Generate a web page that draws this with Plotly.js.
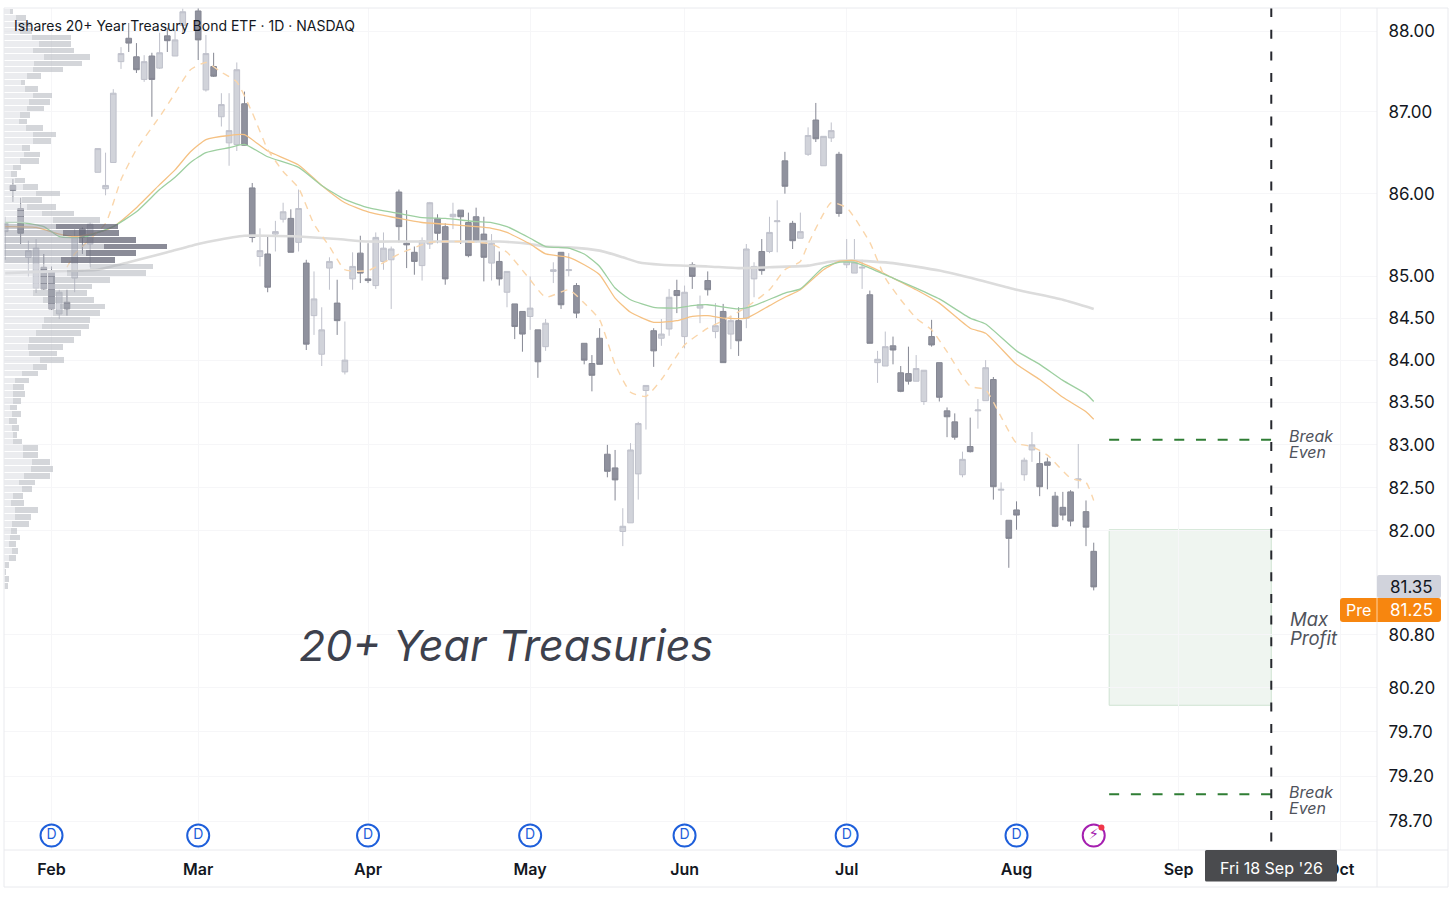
<!DOCTYPE html>
<html>
<head>
<meta charset="utf-8">
<script src="https://cdn.plot.ly/plotly-3.0.1.min.js"></script>
<style>html,body{margin:0;padding:0;background:#fff}#chart{width:1456px;height:897px}</style>
</head>
<body>
<div id="chart"></div>
<script>
const sessions = [
'2026-01-23','2026-01-26','2026-01-27','2026-01-28','2026-01-29','2026-01-30',
'2026-02-02','2026-02-03','2026-02-04','2026-02-05','2026-02-06','2026-02-09','2026-02-10','2026-02-11','2026-02-12','2026-02-13','2026-02-17','2026-02-18','2026-02-19','2026-02-20','2026-02-23','2026-02-24','2026-02-25','2026-02-26','2026-02-27',
'2026-03-02','2026-03-03','2026-03-04','2026-03-05','2026-03-06','2026-03-09','2026-03-10','2026-03-11','2026-03-12','2026-03-13','2026-03-16','2026-03-17','2026-03-18','2026-03-19','2026-03-20','2026-03-23','2026-03-24','2026-03-25','2026-03-26','2026-03-27','2026-03-30','2026-03-31',
'2026-04-01','2026-04-02','2026-04-06','2026-04-07','2026-04-08','2026-04-09','2026-04-10','2026-04-13','2026-04-14','2026-04-15','2026-04-16','2026-04-17','2026-04-20','2026-04-21','2026-04-22','2026-04-23','2026-04-24','2026-04-27','2026-04-28','2026-04-29','2026-04-30',
'2026-05-01','2026-05-04','2026-05-05','2026-05-06','2026-05-07','2026-05-08','2026-05-11','2026-05-12','2026-05-13','2026-05-14','2026-05-15','2026-05-18','2026-05-19','2026-05-20','2026-05-21','2026-05-22','2026-05-26','2026-05-27','2026-05-28','2026-05-29',
'2026-06-01','2026-06-02','2026-06-03','2026-06-04','2026-06-05','2026-06-08','2026-06-09','2026-06-10','2026-06-11','2026-06-12','2026-06-15','2026-06-16','2026-06-17','2026-06-18','2026-06-22','2026-06-23','2026-06-24','2026-06-25','2026-06-26','2026-06-29','2026-06-30',
'2026-07-01','2026-07-02','2026-07-06','2026-07-07','2026-07-08','2026-07-09','2026-07-10','2026-07-13','2026-07-14','2026-07-15','2026-07-16','2026-07-17','2026-07-20','2026-07-21','2026-07-22','2026-07-23','2026-07-24','2026-07-27','2026-07-28','2026-07-29','2026-07-30','2026-07-31',
'2026-08-03','2026-08-04','2026-08-05','2026-08-06','2026-08-07','2026-08-10','2026-08-11','2026-08-12','2026-08-13','2026-08-14','2026-08-17'];
const futureSessions = ['2026-08-18','2026-08-19','2026-08-20','2026-08-21','2026-08-24','2026-08-25','2026-08-26','2026-08-27','2026-08-28','2026-08-31',
'2026-09-01','2026-09-02','2026-09-03','2026-09-04','2026-09-08','2026-09-09','2026-09-10','2026-09-11','2026-09-14','2026-09-15','2026-09-16','2026-09-17','2026-09-18','2026-09-21','2026-09-22','2026-09-23','2026-09-24','2026-09-25','2026-09-28','2026-09-29','2026-09-30','2026-10-01','2026-10-02','2026-10-05','2026-10-06','2026-10-07'];

const open = [85.54,86.10,85.82,85.23,84.86,85.11,
85.07,84.55,84.69,84.98,85.57,85.39,86.26,86.06,86.38,87.62,87.91,87.68,87.40,87.69,87.54,87.94,87.69,88.07,null,
88.25,87.27,87.56,86.94,86.62,86.60,87.10,86.07,85.24,85.27,85.51,85.69,85.70,85.41,85.16,84.53,84.07,85.10,84.68,83.86,84.97,85.28,
84.97,84.89,85.18,85.20,86.02,85.40,85.29,85.13,85.39,85.70,85.60,85.72,85.80,85.65,85.72,85.51,85.16,85.18,84.81,84.67,84.58,
84.52,84.36,84.16,85.06,85.29,85.07,84.89,84.20,83.96,84.26,82.89,82.73,81.99,82.09,82.66,83.64,84.35,84.26,84.37,84.83,
84.28,85.14,84.62,84.95,84.34,84.58,84.31,84.47,84.50,84.97,85.30,85.30,85.66,86.40,85.64,85.46,86.48,86.90,86.34,86.68,86.48,
85.14,85.04,85.10,84.78,83.97,83.93,84.17,83.85,83.84,83.75,83.51,84.28,83.97,83.40,83.27,82.65,82.98,83.40,83.52,83.77,82.47,82.12,
82.24,82.65,82.94,82.78,82.80,82.40,82.27,82.45,82.59,82.22,81.76];
const high = [85.72,86.18,85.95,85.43,85.45,85.27,
85.12,84.84,84.84,85.57,85.59,85.65,86.55,86.50,87.28,87.80,88.10,87.85,87.70,87.73,87.98,88.04,88.01,88.28,null,
88.40,87.95,87.73,87.23,87.23,87.61,87.25,86.13,85.58,85.48,85.67,85.89,85.81,86.05,85.20,85.06,84.63,85.23,84.96,84.46,85.29,85.49,
85.40,85.53,85.53,85.36,86.05,85.80,85.36,85.47,85.90,85.75,85.64,85.89,85.80,85.77,85.83,85.72,85.51,85.30,85.06,84.67,84.58,
85.00,84.36,84.49,85.17,85.29,85.28,84.92,84.20,84.06,84.38,83.00,82.94,82.26,83.02,83.27,83.70,84.38,84.49,84.85,84.96,
84.89,85.17,84.77,85.06,84.68,84.67,84.53,84.63,85.39,85.17,85.45,85.72,85.92,86.51,85.67,85.77,86.81,87.11,86.70,86.87,86.51,
85.45,85.45,85.20,84.83,84.11,84.34,84.28,83.93,84.16,84.06,83.88,84.48,83.97,83.44,83.37,82.92,83.32,83.54,84.00,83.80,82.56,82.12,
82.34,82.85,83.15,82.92,82.85,82.45,82.45,82.47,83.01,82.35,81.86];
const low = [85.20,85.90,85.39,85.00,84.80,84.84,
84.60,84.49,84.53,84.81,85.27,85.11,86.26,85.98,86.38,87.53,87.74,87.48,87.37,86.94,87.53,87.74,87.69,87.98,null,
87.64,87.25,87.43,86.82,86.34,86.52,86.59,85.41,85.12,84.81,85.30,85.65,85.29,85.30,84.12,84.30,83.93,84.84,84.30,83.83,84.84,84.92,
84.92,84.85,85.08,84.61,85.41,85.10,85.02,84.95,85.33,85.40,84.90,85.57,85.39,85.23,85.41,84.94,84.95,84.89,84.63,84.25,84.10,
84.36,83.79,84.11,84.92,84.61,85.00,84.50,83.95,83.63,83.95,82.62,82.35,81.82,82.09,82.36,83.18,83.92,84.17,84.29,84.56,
84.14,84.85,84.44,84.77,84.26,83.97,84.13,84.05,84.38,84.75,85.02,85.28,85.29,86.00,85.33,85.46,86.46,86.63,86.34,86.63,85.72,
85.10,85.04,84.85,84.20,83.73,83.93,83.95,83.62,83.71,83.75,83.47,84.16,83.51,83.09,83.06,82.62,82.91,83.19,83.52,82.36,82.18,81.57,
82.01,82.58,82.80,82.40,82.48,82.04,82.12,82.05,82.49,81.82,81.31];
const close = [85.64,86.04,85.52,85.31,85.34,84.85,
84.61,84.81,84.61,85.48,85.48,85.63,86.55,86.10,87.23,87.72,87.85,87.52,87.62,87.40,87.73,87.88,87.89,88.24,null,
87.89,87.72,87.44,87.09,86.77,87.52,86.59,85.47,85.31,84.87,85.54,85.78,85.29,85.82,84.19,84.73,84.36,85.18,84.47,84.00,85.12,85.04,
84.95,85.47,85.34,85.33,85.60,85.38,85.18,85.43,85.89,85.52,84.97,85.75,85.72,85.25,85.42,85.23,85.40,84.97,85.06,84.40,84.31,
84.62,83.98,84.44,85.08,84.66,85.08,84.56,84.00,83.82,83.95,82.69,82.59,82.05,82.94,83.25,83.70,84.11,84.31,84.75,84.77,
84.81,85.00,84.66,84.84,84.41,83.97,84.47,84.23,85.33,85.12,85.07,85.53,85.67,86.09,85.43,85.54,86.71,86.67,86.70,86.77,85.76,
85.18,85.17,85.11,84.20,84.01,84.16,84.12,83.63,83.75,83.90,83.88,84.18,83.56,83.33,83.09,82.83,82.92,83.41,83.91,82.51,82.48,81.91,
82.18,82.82,83.00,82.51,82.76,82.05,82.18,82.11,82.60,82.04,81.35];

const ma200Dates = ['2026-01-23','2026-02-02','2026-02-06','2026-02-10','2026-02-17','2026-02-24','2026-03-02','2026-03-04','2026-03-10','2026-03-13','2026-03-19','2026-03-26','2026-04-01','2026-04-08','2026-04-14','2026-04-21','2026-04-27','2026-05-01','2026-05-05','2026-05-08','2026-05-14','2026-05-19','2026-05-21','2026-05-27','2026-06-04','2026-06-10','2026-06-16','2026-06-24','2026-06-29','2026-07-02','2026-07-10','2026-07-20','2026-07-27','2026-08-03','2026-08-11','2026-08-17'];
const ma200 = [85.04,85.06,85.07,85.08,85.17,85.29,85.39,85.43,85.49,85.49,85.48,85.45,85.42,85.42,85.42,85.42,85.42,85.39,85.36,85.35,85.31,85.23,85.17,85.14,85.12,85.10,85.11,85.13,85.18,85.19,85.16,85.07,84.96,84.84,84.72,84.61];

const emaDates = ['2026-01-23','2026-01-29','2026-02-03','2026-02-05','2026-02-10','2026-02-12','2026-02-18','2026-02-23','2026-02-25','2026-02-27','2026-03-03','2026-03-06','2026-03-10','2026-03-13','2026-03-19','2026-03-24','2026-03-27','2026-04-01','2026-04-08','2026-04-13','2026-04-16','2026-04-22','2026-04-24','2026-04-28','2026-05-01','2026-05-05','2026-05-08','2026-05-12','2026-05-14','2026-05-18','2026-05-20','2026-05-26','2026-05-29','2026-06-02','2026-06-04','2026-06-08','2026-06-11','2026-06-16','2026-06-18','2026-06-23','2026-06-26','2026-06-30','2026-07-02','2026-07-07','2026-07-10','2026-07-15','2026-07-20','2026-07-24','2026-07-28','2026-08-03','2026-08-06','2026-08-11','2026-08-14','2026-08-17'];
const ema = [85.60,85.59,85.51,85.48,85.53,85.60,85.83,86.11,86.29,86.51,86.66,86.71,86.72,86.52,86.35,86.10,85.89,85.78,85.70,85.65,85.63,85.60,85.58,85.53,85.39,85.27,85.23,85.14,85.02,84.74,84.57,84.45,84.47,84.52,84.53,84.50,84.50,84.65,84.75,84.84,85.08,85.18,85.19,85.12,84.98,84.84,84.68,84.38,84.32,83.95,83.77,83.56,83.39,83.30];

const smaDates = ['2026-01-23','2026-01-27','2026-01-30','2026-02-03','2026-02-06','2026-02-10','2026-02-12','2026-02-18','2026-02-23','2026-02-25','2026-02-27','2026-03-03','2026-03-06','2026-03-10','2026-03-13','2026-03-19','2026-03-24','2026-03-27','2026-04-01','2026-04-08','2026-04-13','2026-04-16','2026-04-22','2026-04-24','2026-04-28','2026-05-01','2026-05-05','2026-05-08','2026-05-12','2026-05-14','2026-05-18','2026-05-20','2026-05-26','2026-05-29','2026-06-02','2026-06-04','2026-06-10','2026-06-12','2026-06-18','2026-06-23','2026-06-26','2026-06-30','2026-07-02','2026-07-07','2026-07-10','2026-07-15','2026-07-20','2026-07-24','2026-07-28','2026-08-03','2026-08-06','2026-08-11','2026-08-14','2026-08-17'];
const sma = [85.65,85.65,85.60,85.48,85.47,85.53,85.60,85.78,86.05,86.20,86.38,86.50,86.56,86.60,86.45,86.32,86.10,85.93,85.83,85.76,85.71,85.70,85.66,85.65,85.60,85.46,85.36,85.34,85.27,85.12,84.86,84.72,84.63,84.62,84.65,84.66,84.61,84.65,84.80,84.85,85.11,85.17,85.17,85.10,84.98,84.86,84.73,84.50,84.43,84.11,83.95,83.76,83.60,83.51];

const fastDates = ['2026-02-04','2026-02-05','2026-02-11','2026-02-13','2026-02-18','2026-02-23','2026-02-25','2026-02-27','2026-03-03','2026-03-05','2026-03-09','2026-03-11','2026-03-13','2026-03-17','2026-03-19','2026-03-23','2026-03-25','2026-03-27','2026-04-01','2026-04-08','2026-04-14','2026-04-20','2026-04-24','2026-04-28','2026-05-01','2026-05-05','2026-05-08','2026-05-12','2026-05-14','2026-05-18','2026-05-20','2026-05-22','2026-05-27','2026-06-01','2026-06-04','2026-06-08','2026-06-11','2026-06-16','2026-06-18','2026-06-23','2026-06-24','2026-06-29','2026-07-01','2026-07-02','2026-07-07','2026-07-09','2026-07-13','2026-07-15','2026-07-17','2026-07-21','2026-07-24','2026-07-28','2026-07-30','2026-08-03','2026-08-05','2026-08-07','2026-08-12','2026-08-14','2026-08-17'];
const fast = [85.11,85.27,85.64,86.17,86.54,86.94,87.23,87.52,87.61,87.49,87.37,86.99,86.54,86.27,86.07,85.63,85.36,85.08,85.07,85.27,85.41,85.42,85.39,85.29,84.96,84.75,84.84,84.68,84.48,83.95,83.62,83.57,83.77,84.18,84.38,84.47,84.63,84.84,85.08,85.18,85.39,85.89,85.83,85.71,85.41,84.98,84.72,84.50,84.36,84.10,83.69,83.65,83.33,83.02,82.98,82.88,82.61,82.56,82.35];

const profilePrices = [81.36,81.44,81.52,81.60,81.68,81.76,81.84,81.92,82.00,82.08,82.16,82.24,82.32,82.40,82.48,82.56,82.64,82.72,82.80,82.88,82.96,83.04,83.12,83.20,83.28,83.36,83.44,83.52,83.60,83.68,83.76,83.84,83.92,84.00,84.08,84.16,84.24,84.32,84.40,84.48,84.56,84.64,84.72,84.80,84.88,84.96,85.04,85.12,85.20,85.28,85.36,85.44,85.52,85.60,85.68,85.76,85.84,85.92,86.00,86.08,86.16,86.24,86.32,86.40,86.48,86.56,86.64,86.72,86.80,86.88,86.96,87.04,87.12,87.20,87.28,87.36,87.44,87.52,87.60,87.68,87.76,87.84,87.92,88.00,88.08,88.16,88.24];
const volumeUp = [1,1,1,1,15,22,13,17,20,23,32,32,19,27,52,45,59,79,82,55,57,27,25,23,15,22,17,25,25,27,32,52,85,107,75,72,75,95,112,120,147,167,117,87,152,147,187,257,169,245,299,225,177,155,145,112,69,52,95,57,32,19,27,47,59,52,87,87,65,43,47,67,75,87,63,49,69,85,90,119,85,105,82,47,42,35,17];
const volumeDown = [10,14,5,12,19,19,22,30,19,50,47,68,40,28,32,47,78,66,54,45,44,26,12,20,24,28,20,24,37,32,42,50,42,72,83,105,134,135,142,138,140,135,153,160,110,170,237,190,164,151,188,170,166,186,142,97,86,62,71,43,30,20,22,57,49,24,53,68,50,25,29,52,62,55,39,13,40,90,143,139,123,96,117,35,40,30,10];
const valueAreaLow = 85.20, valueAreaHigh = 85.60;

const priceTicks = [88,87,86,85,84.5,84,83.5,83,82.5,82,80.8,80.2,79.7,79.2,78.7];
const priceLabels = ['88.00','87.00','86.00','85.00','84.50','84.00','83.50','83.00','82.50','82.00','80.80','80.20','79.70','79.20','78.70'];
const monthTicks = ['2026-02-02','2026-03-02','2026-04-01','2026-05-01','2026-06-01','2026-07-01','2026-08-03','2026-09-01','2026-10-01'];
const monthLabels = ['Feb','Mar','Apr','May','Jun','Jul','Aug','Sep','Oct'];
const dividendDates = ['2026-02-02','2026-03-02','2026-04-01','2026-05-01','2026-06-01','2026-07-01','2026-08-03'];
const eventPrice = 78.54;
const breakEvenHigh = 83.06, breakEvenLow = 79.0, profitHigh = 82.01, profitLow = 80.0;
const profitStart = '2026-08-19', expiry = '2026-09-18';

// layout helpers: chart furniture placed in page pixels
const L=4,R=1377,T=8,B=850;
const px=x=>(x-L)/(R-L), py=y=>(B-y)/(B-T);
const rrect=(x0,y0,x1,y1,r)=>`M${px(x0+r)},${py(y0)} L${px(x1-r)},${py(y0)} Q${px(x1)},${py(y0)} ${px(x1)},${py(y0+r)} L${px(x1)},${py(y1-r)} Q${px(x1)},${py(y1)} ${px(x1-r)},${py(y1)} L${px(x0+r)},${py(y1)} Q${px(x0)},${py(y1)} ${px(x0)},${py(y1-r)} L${px(x0)},${py(y0+r)} Q${px(x0)},${py(y0)} ${px(x0+r)},${py(y0)} Z`;
const paperLine=(x0,y0,x1,y1)=>({type:'line',xref:'paper',yref:'paper',x0:px(x0),y0:py(y0),x1:px(x1),y1:py(y1),line:{color:'#e9eaee',width:1},layer:'above'});
const FONT='Inter, "Liberation Sans", sans-serif';
const inValue=p=>p>=valueAreaLow&&p<=valueAreaHigh;

const maLine=(x,y,color,width,dash)=>({type:'scatter',mode:'lines',x,y,hoverinfo:'skip',line:{color,width,dash:dash||'solid',shape:'spline',smoothing:0.5},xaxis:'x',yaxis:'y'});

const traces=[
 maLine(ma200Dates,ma200,'#dcdcdc',2.6),
 {type:'candlestick',x:sessions,open,high,low,close,xaxis:'x',yaxis:'y',whiskerwidth:0,
  increasing:{fillcolor:'#d1d3da',line:{color:'#bfc1cb',width:1}},
  decreasing:{fillcolor:'#90929e',line:{color:'#858793',width:1}},hoverinfo:'skip'},
 maLine(emaDates,ema,'#f5c183',1.3),
 maLine(smaDates,sma,'#9dcfa0',1.3),
 maLine(fastDates,fast,'#fad6ab',1.4,'7px,6px'),
 {type:'scatter',mode:'markers+text',x:dividendDates,y:dividendDates.map(()=>eventPrice),text:dividendDates.map(()=>'D'),textposition:'middle center',
  textfont:{family:FONT,size:14,color:'#1e5fdb'},marker:{symbol:'circle',size:22,color:'#ffffff',line:{color:'#1e5fdb',width:2}},hoverinfo:'skip',xaxis:'x',yaxis:'y'},
 {type:'scatter',mode:'markers+text',x:['2026-08-17'],y:[eventPrice],text:['⚡'],textposition:'middle center',
  textfont:{family:'"DejaVu Sans"',size:15,color:'#a51fb0'},marker:{symbol:'circle',size:22,color:'#ffffff',line:{color:'#a51fb0',width:2}},hoverinfo:'skip',xaxis:'x',yaxis:'y'},
 {type:'scatter',mode:'markers',x:['2026-08-18'],y:[78.63],marker:{size:6,color:'#f0364a'},hoverinfo:'skip',xaxis:'x',yaxis:'y'},
 {type:'bar',orientation:'h',y:profilePrices,x:volumeUp,width:0.068,xaxis:'x2',yaxis:'y',hoverinfo:'skip',
  marker:{line:{width:0},color:profilePrices.map(p=>inValue(p)?'rgba(150,153,165,0.5)':'rgba(215,218,224,0.5)')}},
 {type:'bar',orientation:'h',y:profilePrices,x:volumeDown,width:0.068,xaxis:'x2',yaxis:'y',hoverinfo:'skip',
  marker:{line:{width:0},color:profilePrices.map(p=>inValue(p)?'rgba(100,102,118,0.75)':'rgba(170,173,182,0.5)')}}
];

const greenDash={color:'#2f7d34',width:2,dash:'10px,11.7px'};
const shapes=[
 {type:'rect',xref:'x',yref:'y',x0:profitStart,x1:expiry,y0:profitLow,y1:profitHigh,fillcolor:'#eff5f0',line:{color:'#cfe3d2',width:1},layer:'below'},
 {type:'line',xref:'x',yref:'y',x0:profitStart,x1:expiry,y0:breakEvenHigh,y1:breakEvenHigh,line:greenDash},
 {type:'line',xref:'x',yref:'y',x0:profitStart,x1:expiry,y0:breakEvenLow,y1:breakEvenLow,line:greenDash},
 {type:'line',xref:'x',yref:'paper',x0:expiry,x1:expiry,y0:1,y1:0,line:{color:'#26282e',width:2,dash:'9px,12.7px'}},
 paperLine(4,8,1448,8),paperLine(4,887,1448,887),paperLine(4,8,4,887),paperLine(1448,8,1448,887),
 paperLine(1377,8,1377,887),paperLine(4,850,1448,850),
 {type:'path',xref:'paper',yref:'paper',path:rrect(1377,575,1441,598,2),fillcolor:'#d1d3dc',line:{width:0},layer:'above'},
 {type:'path',xref:'paper',yref:'paper',path:rrect(1340,598,1441,622,3),fillcolor:'#f7860f',line:{width:0},layer:'above'},
 {type:'line',xref:'paper',yref:'paper',x0:px(1377),x1:px(1377),y0:py(598),y1:py(622),line:{color:'#ffd3a3',width:1},layer:'above'},
 {type:'path',xref:'paper',yref:'paper',path:rrect(1205,850,1337,881.5,1.5),fillcolor:'#4a4b4e',line:{width:0},layer:'above'}
];

const note=(x,y,text,size,color,extra)=>Object.assign({xref:'paper',yref:'paper',x:px(x),y:py(y),text,showarrow:false,xanchor:'left',yanchor:'middle',font:{family:FONT,size,color}},extra||{});
const annotations=[
 note(12,26,'Ishares 20+ Year Treasury Bond ETF · 1D · NASDAQ',14,'#131722'),
 note(297,645,'<i>20+ Year Treasuries</i>',43,'#3d414d'),
 note(1287,436,'<i>Break</i>',16,'#50535c'),note(1287,452,'<i>Even</i>',16,'#50535c'),
 note(1288,619,'<i>Max</i>',18.5,'#50535c'),note(1288,638,'<i>Profit</i>',18.5,'#50535c'),
 note(1287,792,'<i>Break</i>',16,'#50535c'),note(1287,808,'<i>Even</i>',16,'#50535c'),
 note(1411,587,'81.35',17,'#131722',{xanchor:'center'}),
 note(1411,610,'81.25',17,'#ffffff',{xanchor:'center'}),
 note(1358,610,'Pre',16,'#ffffff',{xanchor:'center'}),
 note(1271,868.5,"Fri 18 Sep '26",16,'#ffffff',{xanchor:'center'})
];

const layout={
 width:1456,height:897,margin:{l:L,r:1456-R,t:T,b:897-B,pad:0},
 paper_bgcolor:'#ffffff',plot_bgcolor:'#ffffff',showlegend:false,hovermode:false,
 font:{family:FONT,color:'#131722'},barmode:'stack',bargap:0,boxmode:'overlay',boxgap:0.12,boxgroupgap:0.17,
 xaxis:{type:'category',categoryorder:'array',categoryarray:sessions.concat(futureSessions),
  range:[(4-5.2)/7.72,(1377-5.2)/7.72],rangeslider:{visible:false},
  tickmode:'array',tickvals:monthTicks,ticktext:monthLabels,tickangle:0,
  tickfont:{family:FONT,size:16,color:'#131722',weight:600},ticks:'outside',ticklen:5,tickcolor:'rgba(0,0,0,0)',
  showgrid:true,gridcolor:'#f6f6f8',gridwidth:1,zeroline:false,showline:false,fixedrange:true,automargin:false},
 xaxis2:{type:'linear',overlaying:'x',anchor:'y',range:[-1.2,4118],visible:false,fixedrange:true},
 yaxis:{type:'log',side:'right',range:[Math.log10(78.38),Math.log10(88.287)],tickmode:'array',tickvals:priceTicks,ticktext:priceLabels,
  tickfont:{family:FONT,size:17,color:'#131722'},ticks:'outside',ticklen:7,tickcolor:'rgba(0,0,0,0)',
  showgrid:true,gridcolor:'#f6f6f8',gridwidth:1,zeroline:false,showline:false,fixedrange:true,automargin:false},
 shapes,annotations
};
Plotly.newPlot('chart',traces,layout,{displayModeBar:false,staticPlot:true});
</script>
</body>
</html>
